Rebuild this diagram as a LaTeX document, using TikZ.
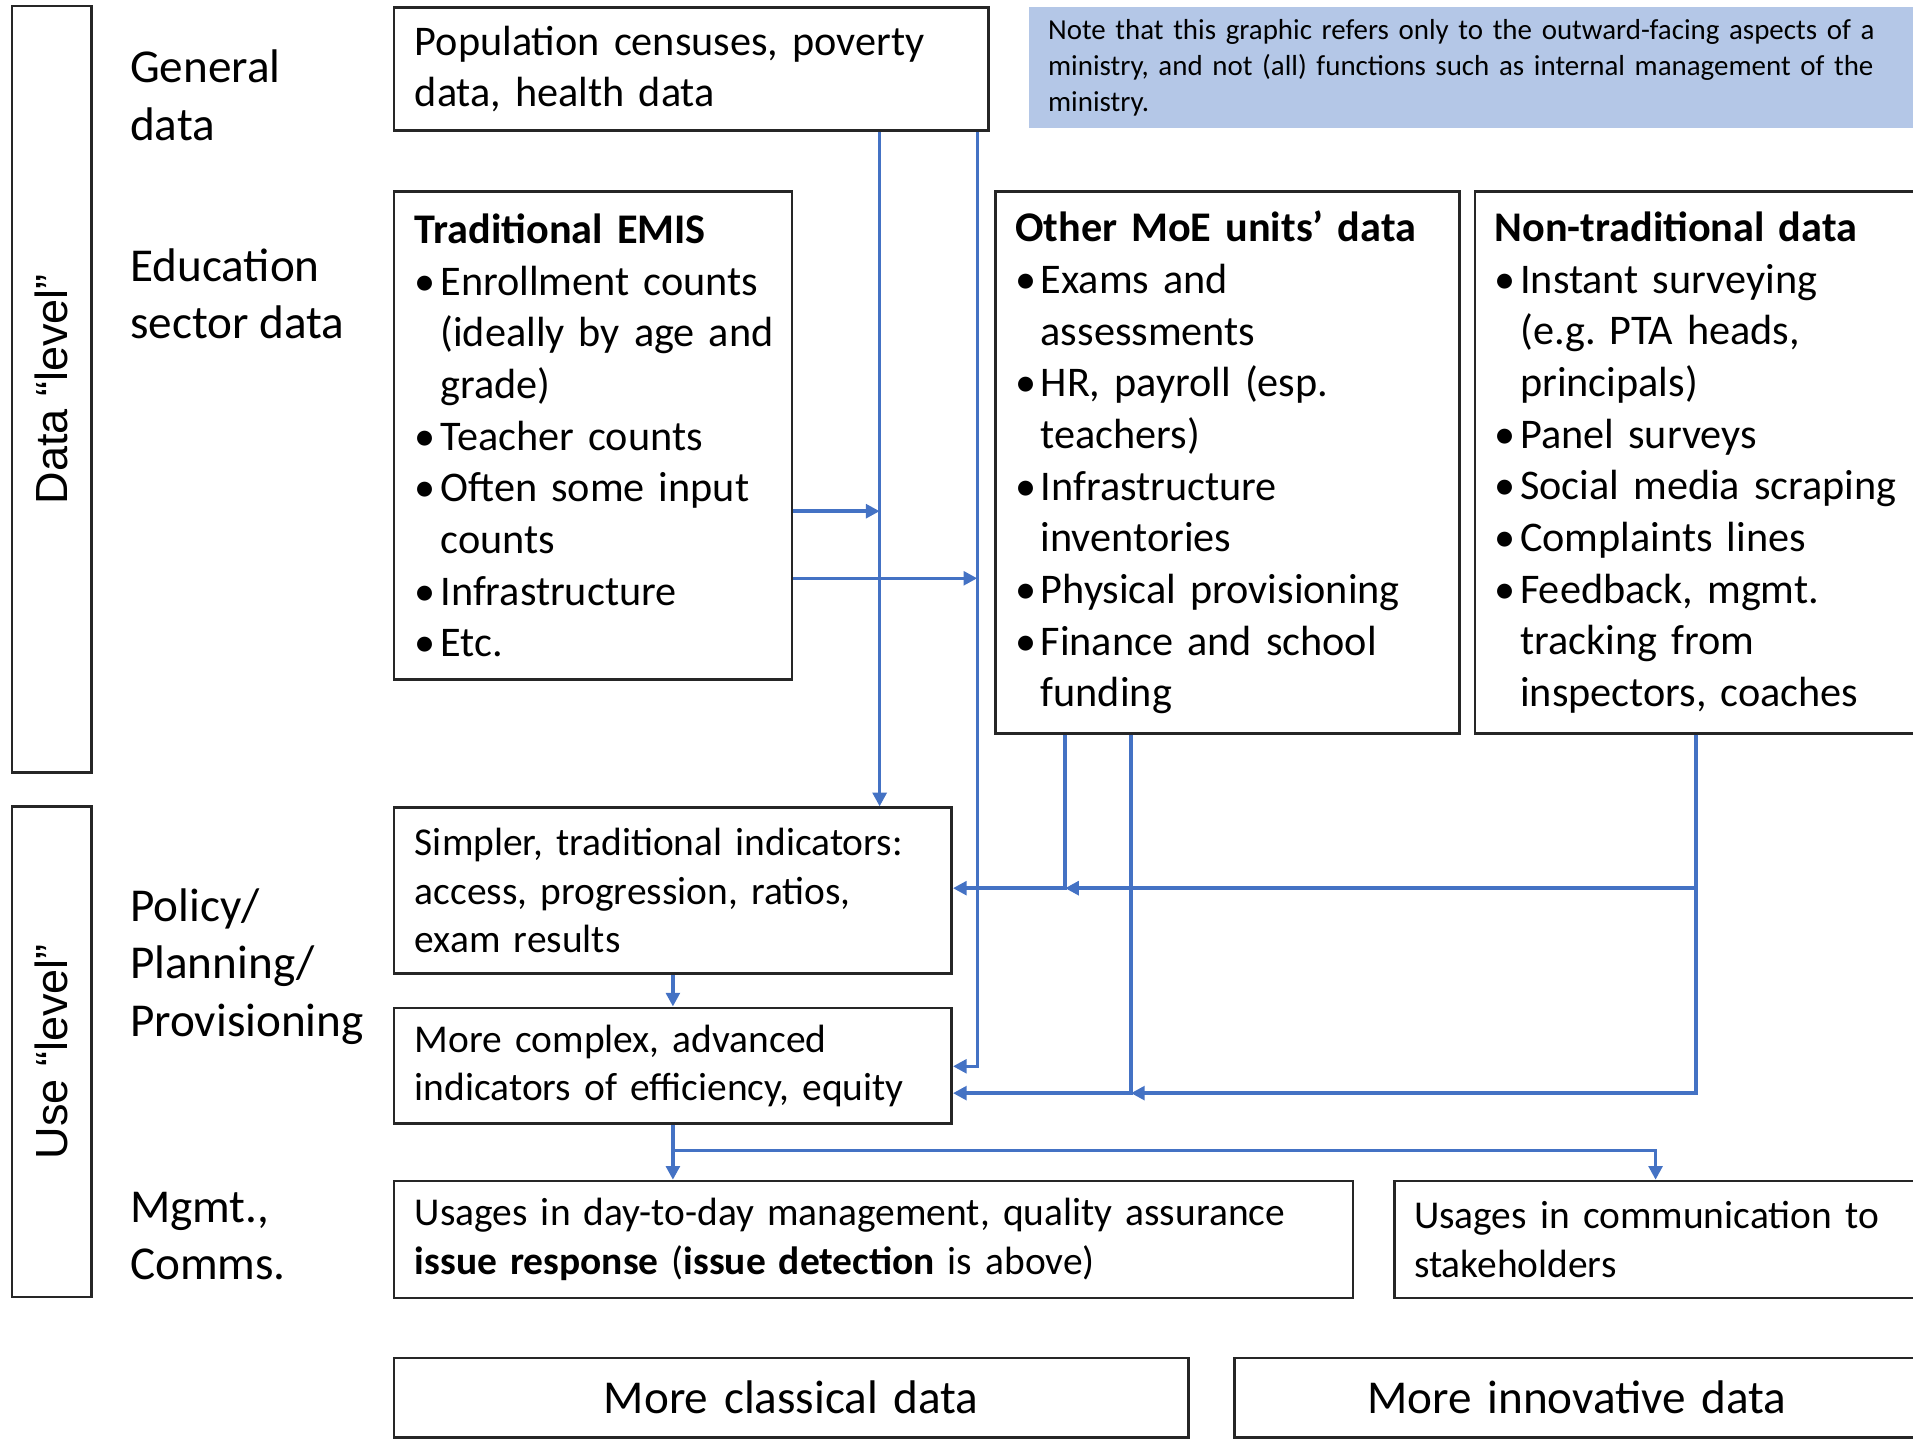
\documentclass[tikz,border=0pt]{standalone}
\usepackage{fontspec}
\setmainfont{Carlito}
\newfontfamily\arialfont{Liberation Sans}
\usetikzlibrary{arrows.meta}
\definecolor{flowblue}{HTML}{4472C4}
\definecolor{notefill}{HTML}{B4C7E7}
\newlength\bulw
\setlength\bulw{2.1mm}
\newcommand\bitem{\makebox[\bulw][l]{\textbullet}}
\newcommand\bcont{\hspace*{\bulw}}
\newcommand\nowrap{\rightskip=-15mm plus 1fil\relax}
\tikzset{
  box/.style={draw=black!85, line width=0.6pt, anchor=north west, inner xsep=1.7mm, inner ysep=0pt, align=left, font=\fontsize{9.85}{12.05}\selectfont},
  smallbox/.style={box, font=\fontsize{9.2}{11.3}\selectfont},
  footbox/.style={box, align=center, font=\fontsize{11}{13}\selectfont},
  lvlbox/.style={draw=black!85, line width=0.6pt, minimum width=6.5mm, inner sep=0pt, font=\arialfont\fontsize{10.5}{12}\selectfont},
  lbl/.style={anchor=west, align=left, inner sep=0pt, font=\fontsize{11}{13.4}\selectfont},
  flow/.style={->, draw=flowblue, line width=0.8pt}
}
\begin{document}
\begin{tikzpicture}[x=0.1mm, y=-0.1mm, >={Triangle[length=3.2pt,width=3.2pt]}]
\useasboundingbox (0,0) rectangle (1568,1180);
\clip (0,0) rectangle (1568,1180);

\node[lvlbox, minimum height=62.8mm] (datalvl) at (42.5,319) {\rotatebox{90}{Data “level”}};
\node[lvlbox, minimum height=40.2mm] (uselvl) at (42.5,862) {\rotatebox{90}{Use “level”}};

\node[lbl] (lblgen) at (106,78) {General\\data};
\node[lbl] (lbledu) at (106,241) {Education\\sector data};
\node[lbl] (lblpol) at (106,792) {Policy/\\Planning/\\Provisioning};
\node[lbl] (lblmgmt) at (106,1013) {Mgmt.,\\Comms.};

\node[box, minimum width=48.7mm, minimum height=10.1mm, text width=45.3mm] (pop) at (322,5)
  {\nowrap Population censuses, poverty\\data, health data};
\node[box, fill=notefill, draw=none, inner xsep=1.6mm, minimum height=9.9mm, text width=80mm, font=\fontsize{6.75}{8.5}\selectfont] (note) at (842,5)
  {\nowrap Note that this graphic refers only to the outward-facing aspects of a\\ministry, and not (all) functions such as internal management of the\\ministry.};

\node[box, minimum width=32.6mm, minimum height=40mm, text width=29.2mm] (emis) at (322,156)
  {\nowrap\textbf{Traditional EMIS}\\
   \bitem Enrollment counts\\
   \bcont (ideally by age and\\
   \bcont grade)\\
   \bitem Teacher counts\\
   \bitem Often some input\\
   \bcont counts\\
   \bitem Infrastructure\\
   \bitem Etc.};
\node[box, inner xsep=1.6mm, minimum width=38mm, minimum height=44.4mm, text width=34.8mm] (moe) at (815,156)
  {\nowrap\textbf{Other MoE units’ data}\\
   \bitem Exams and\\
   \bcont assessments\\
   \bitem HR, payroll (esp.\\
   \bcont teachers)\\
   \bitem Infrastructure\\
   \bcont inventories\\
   \bitem Physical provisioning\\
   \bitem Finance and school\\
   \bcont funding};
\node[box, inner xsep=1.6mm, minimum width=36.4mm, minimum height=44.4mm, text width=33.2mm] (nontrad) at (1208,156)
  {\nowrap\textbf{Non-traditional data}\\
   \bitem Instant surveying\\
   \bcont (e.g.\ PTA heads,\\
   \bcont principals)\\
   \bitem Panel surveys\\
   \bitem Social media scraping\\
   \bitem Complaints lines\\
   \bitem Feedback, mgmt.\\
   \bcont tracking from\\
   \bcont inspectors, coaches};

\node[smallbox, minimum width=45.7mm, minimum height=13.6mm, text width=42.3mm] (simple) at (322,661)
  {\nowrap Simpler, traditional indicators:\\access, progression, ratios,\\exam results};
\node[smallbox, minimum width=45.7mm, minimum height=9.5mm, text width=42.3mm] (complex) at (322,825)
  {\nowrap More complex, advanced\\indicators of efficiency, equity};
\node[smallbox, minimum width=78.6mm, minimum height=9.6mm, text width=75.2mm] (mgmt) at (322,967)
  {\nowrap Usages in day-to-day management, quality assurance\\\textbf{issue response} (\textbf{issue detection} is above)};
\node[smallbox, inner xsep=1.6mm, minimum width=43mm, minimum height=9.6mm, text width=39.8mm] (comms) at (1142,967)
  {\nowrap Usages in communication to\\stakeholders};

\node[footbox, minimum width=65.1mm, minimum height=6.5mm, text width=61.7mm] (classical) at (322,1112) {More classical data};
\node[footbox, minimum width=56.1mm, minimum height=6.5mm, text width=52.7mm] (innov) at (1011,1112) {More innovative data};

\coordinate (busA) at (721,0);
\coordinate (busB) at (801,0);
\coordinate (busC) at (873,0);
\coordinate (busD) at (927,0);
\coordinate (busE) at (1390,0);
\coordinate (busG) at (1357,0);
\coordinate (rowA) at (0,419);
\coordinate (rowB) at (0,474);
\coordinate (rowS) at (0,728);
\coordinate (rowC) at (0,874);
\coordinate (rowD) at (0,896);
\coordinate (rowM) at (0,943);

\draw[flow] (pop.south -| busA) -- (simple.north -| busA);
\draw[flow] (pop.south -| busB) |- (complex.east |- rowC);
\draw[flow] (emis.east |- rowA) -- (busA |- rowA);
\draw[flow] (emis.east |- rowB) -- (busB |- rowB);
\draw[flow] (moe.south -| busC) |- (simple.east |- rowS);
\draw[flow] (nontrad.south -| busE) |- (busC |- rowS);
\draw[flow] (moe.south -| busD) |- (complex.east |- rowD);
\draw[flow] (nontrad.south -| busE) |- (busD |- rowD);
\draw[flow] (simple) -- (complex);
\draw[flow] (complex.south) -- (mgmt.north -| complex.south);
\draw[flow] (complex.south |- rowM) -| (comms.north -| busG);
\end{tikzpicture}
\end{document}
